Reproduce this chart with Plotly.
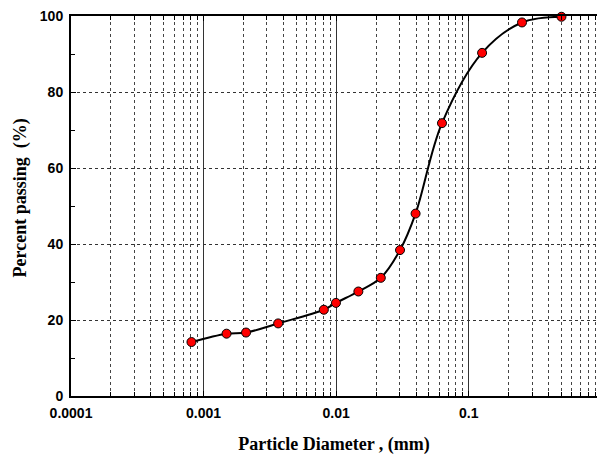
import numpy as np
import plotly.graph_objects as go

# Grain-size distribution: particle diameter (mm) vs percent passing
diameter_mm = [0.00081, 0.00149, 0.00209, 0.00365, 0.00807, 0.00996, 0.0147,
               0.0217, 0.0303, 0.0397, 0.0628, 0.126, 0.252, 0.50]
percent_passing = [14.2, 16.4, 16.7, 19.1, 22.7, 24.5, 27.5,
                   31.1, 38.4, 48.0, 71.8, 90.3, 98.3, 99.8]

decade_ticks = [0.0001, 0.001, 0.01, 0.1, 1]
decade_labels = ["0.0001", "0.001", "0.01", "0.1", "1"]
minor_ticks = [m * d for d in [0.0001, 0.001, 0.01, 0.1] for m in range(2, 10)]
y_ticks = [0, 20, 40, 60, 80, 100]
y_minor = [10, 30, 50, 70, 90]

tick_font = dict(family="Liberation Sans, Arial", size=14, color="black", weight="bold")
title_font = dict(family="Liberation Serif, Times New Roman", size=18, color="black")


def bold(s):
    return f"<b>{s}</b>"


fig = go.Figure()
fig.add_trace(go.Scatter(
    x=diameter_mm, y=percent_passing, mode="lines+markers",
    line=dict(color="black", width=2, shape="spline", smoothing=1.0),
    marker=dict(color="red", size=9, line=dict(color="black", width=1)),
    showlegend=False, cliponaxis=False,
))

fig.update_layout(
    width=597, height=455,
    margin=dict(l=71, r=0, t=16, b=59),
    plot_bgcolor="white", paper_bgcolor="white",
    xaxis=dict(
        type="log", range=[-4, -0.033],
        tickvals=decade_ticks, ticktext=[bold(t) for t in decade_labels], tickfont=tick_font,
        ticks="inside", ticklen=5, tickcolor="black", ticklabelstandoff=3,
        showgrid=True, gridcolor="#333", gridwidth=1,
        showline=True, linecolor="black", linewidth=2, mirror="ticks",
        zeroline=False,
        minor=dict(tickvals=minor_ticks, ticks="inside", ticklen=4, tickcolor="black",
                   showgrid=True, gridcolor="#444", griddash="dot", gridwidth=1),
        title=dict(text=bold("Particle Diameter , (mm)"), font=title_font, standoff=19),
    ),
    yaxis=dict(
        range=[0, 100], tickvals=y_ticks, ticktext=[bold(v) for v in y_ticks], tickfont=tick_font,
        ticks="inside", ticklen=5, tickcolor="black", ticklabelstandoff=3,
        showgrid=True, gridcolor="#333", griddash="dot", gridwidth=1,
        showline=True, linecolor="black", linewidth=2,
        zeroline=False,
        minor=dict(tickvals=y_minor, ticks="inside", ticklen=4, tickcolor="black", showgrid=False),
    ),
    annotations=[dict(
        text=bold("Percent passing\u00a0\u00a0(%)"), font=title_font, textangle=-90,
        xref="paper", yref="paper", x=0, y=0.52, xanchor="center", yanchor="middle",
        xshift=-51, showarrow=False,
    )],
)

fig.write_html("out.html")
